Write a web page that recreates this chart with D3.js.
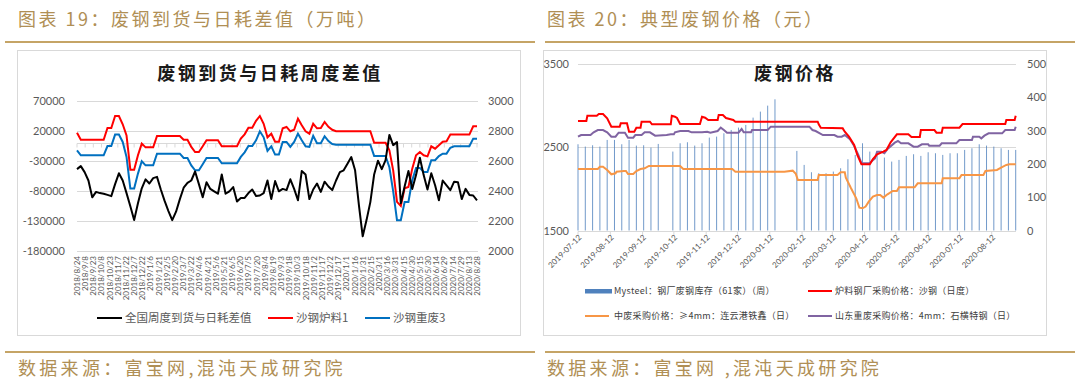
<!DOCTYPE html>
<html><head><meta charset="utf-8">
<script src="https://cdn.jsdelivr.net/npm/d3@7"></script>
<style>
body{margin:0;background:#fff;}
svg{display:block;}
text{font-family:"Noto Sans CJK SC","Noto Sans",sans-serif;}
.num{font-family:Lato,"Liberation Sans",sans-serif;}
</style></head><body>
<svg id="c" width="1080" height="382"></svg>
<script>
// ---------------- LEFT CHART DATA (weekly from 2018-08-24) ----------------
const leftStart = "2018-08-24";
const leftEnd = "2020-08-28";
const arrivalGap = [-43000,-38000,-48000,-62000,-90000,-81000,-83000,-84000,-86000,-88000,
 -68000,-50000,-62000,-83000,-105000,-128000,-100000,-75000,-60000,-67000,
 -58000,-56000,-77000,-96000,-113000,-128000,-114000,-93000,-74000,-66000,
 -62000,-47000,-68000,-90000,-65000,-76000,-80000,-84000,-52000,-84000,
 -80000,-73000,-97000,-91000,-91000,-83000,-77000,-88000,-87000,-83000,
 -62000,-93000,-63000,-80000,-76000,-78000,-60000,-76000,-95000,-46000,
 -52000,-93000,-77000,-67000,-81000,-64000,-72000,-78000,-62000,-48000,
 -45000,-34000,-23000,-45000,-103000,-155000,-128000,-98000,-52000,-29000,
 -43000,-28000,14000,-3000,2000,-100000,-72000,-46000,-76000,-53000,
 -24000,-53000,-77000,-50000,-70000,-95000,-62000,-70000,-78000,-64000,
 -65000,-93000,-76000,-86000,-87000,-95000];
const furnace1 = [2791,2744,2744,2744,2744,2744,2744,2744,2822,2822,
 2902,2902,2847,2773,2544,2544,2640,2718,2693,2693,
 2693,2769,2769,2769,2769,2769,2769,2769,2744,2744,
 2696,2662,2662,2700,2740,2740,2740,2740,2700,2700,
 2700,2700,2700,2751,2780,2824,2824,2870,2902,2850,
 2760,2784,2730,2730,2820,2829,2800,2810,2884,2840,
 2800,2784,2850,2820,2822,2862,2830,2810,2800,2800,
 2800,2800,2800,2800,2800,2800,2800,2800,2724,2724,
 2724,2724,2673,2540,2330,2302,2420,2429,2551,2640,
 2662,2640,2633,2700,2684,2707,2730,2733,2778,2778,
 2778,2778,2778,2778,2833,2833];
const heavy3 = [2673,2640,2640,2640,2640,2640,2640,2640,2702,2702,
 2778,2778,2729,2629,2418,2418,2518,2600,2573,2573,
 2573,2651,2651,2651,2651,2651,2651,2651,2622,2622,
 2573,2540,2540,2580,2622,2622,2622,2622,2587,2587,
 2587,2587,2587,2629,2660,2702,2702,2740,2800,2760,
 2670,2700,2645,2645,2729,2729,2696,2729,2784,2740,
 2700,2696,2770,2720,2720,2767,2735,2715,2711,2711,
 2711,2711,2711,2711,2711,2711,2711,2711,2636,2636,
 2636,2636,2560,2400,2207,2207,2329,2329,2473,2556,
 2556,2529,2529,2607,2607,2635,2651,2651,2690,2700,
 2700,2700,2700,2700,2751,2751];
const leftTickLabels = ["2018/8/24","2018/9/8","2018/9/23","2018/10/8","2018/10/23","2018/11/7","2018/11/22","2018/12/7","2018/12/22","2019/1/6",
 "2019/1/21","2019/2/5","2019/2/20","2019/3/7","2019/3/22","2019/4/6","2019/4/21","2019/5/6","2019/5/21","2019/6/5",
 "2019/6/20","2019/7/5","2019/7/20","2019/8/4","2019/8/19","2019/9/3","2019/9/18","2019/10/3","2019/10/18","2019/11/2",
 "2019/11/17","2019/12/2","2019/12/17","2020/1/1","2020/1/16","2020/1/31","2020/2/15","2020/3/1","2020/3/16","2020/3/31",
 "2020/4/15","2020/4/30","2020/5/15","2020/5/30","2020/6/14","2020/6/29","2020/7/14","2020/7/29","2020/8/13","2020/8/28"];
const leftYTicks = [70000,20000,-30000,-80000,-130000,-180000];
const rightYTicks = [3000,2800,2600,2400,2200,2000];
const leftLegend = ["全国周度到货与日耗差值","沙钢炉料1","沙钢重废3"];

// ---------------- RIGHT CHART DATA ----------------
const barStart = "2019-07-12"; // weekly
const inventory = [259,252,256,252,272,272,259,272,255,256,249,260,null,237,262,265,255,262,279,282,
 292,302,309,317,339,357,375,394,null,null,239,197,175,172,172,177,187,214,227,262,
 237,232,219,207,212,224,229,224,235,232,227,232,232,242,247,259,255,252,247,242,242];
const shaDates = ["2019-07-12","2019-07-20","2019-07-21","2019-07-30","2019-08-01","2019-08-05","2019-08-09","2019-08-13","2019-08-21","2019-08-22",
 "2019-08-28","2019-08-30","2019-09-04","2019-09-06","2019-09-10","2019-09-11","2019-09-19","2019-09-21","2019-10-09","2019-10-10",
 "2019-10-13","2019-10-15","2019-10-18","2019-11-06","2019-11-08","2019-11-11","2019-11-14","2019-11-23","2019-11-24","2019-11-28",
 "2019-12-01","2019-12-08","2019-12-10","2020-02-27","2020-02-28","2020-03-01","2020-03-22","2020-03-24","2020-03-28","2020-04-02",
 "2020-04-05","2020-04-09","2020-04-17","2020-04-20","2020-04-24","2020-04-30","2020-05-03","2020-05-07","2020-05-13","2020-05-24",
 "2020-05-27","2020-06-04","2020-06-05","2020-06-18","2020-06-20","2020-06-25","2020-06-26","2020-07-12","2020-07-15","2020-08-25",
 "2020-08-26","2020-09-03","2020-09-04"];
const shaPrice = [2815,2815,2879,2879,2899,2899,2847,2747,2747,2787,
 2787,2687,2687,2735,2735,2807,2807,2775,2775,2879,
 2867,2851,2779,2779,2867,2855,2827,2827,2887,2887,
 2851,2827,2807,2807,2775,2735,2727,2687,2627,2527,
 2407,2295,2295,2359,2415,2447,2467,2559,2655,2655,
 2623,2623,2707,2707,2675,2675,2735,2735,2779,2779,
 2827,2827,2879];
const lygDates = ["2019-07-12","2019-07-31","2019-08-02","2019-08-05","2019-08-09","2019-08-13","2019-08-17","2019-08-18","2019-08-25","2019-08-27",
 "2019-08-29","2019-09-03","2019-09-06","2019-09-10","2019-09-14","2019-09-18","2019-10-18","2019-10-21","2019-12-07","2019-12-10",
 "2020-01-26","2020-02-03","2020-02-06","2020-02-08","2020-02-27","2020-02-28","2020-03-17","2020-03-20","2020-03-24","2020-03-25",
 "2020-03-30","2020-04-04","2020-04-07","2020-04-10","2020-04-13","2020-04-16","2020-04-20","2020-04-24","2020-04-27","2020-04-30",
 "2020-05-04","2020-05-09","2020-05-13","2020-05-15","2020-05-30","2020-06-02","2020-06-25","2020-06-26","2020-07-12","2020-07-14",
 "2020-08-04","2020-08-06","2020-08-17","2020-08-21","2020-08-26","2020-08-29","2020-09-04"];
const lygPrice = [2239,2239,2267,2267,2227,2175,2187,2207,2215,2215,
 2179,2179,2215,2239,2247,2275,2275,2239,2239,2207,
 2207,2219,2180,2107,2107,2167,2167,2199,2199,2135,
 2007,1887,1775,1767,1787,1847,1907,1927,1927,1895,
 1935,1975,1975,2019,2019,2067,2067,2127,2127,2167,
 2167,2215,2227,2255,2287,2295,2295];
const shiDates = ["2019-07-12","2019-07-15","2019-07-24","2019-07-27","2019-07-31","2019-08-05","2019-08-09","2019-08-13","2019-08-17","2019-08-20",
 "2019-08-26","2019-08-29","2019-09-03","2019-09-05","2019-09-11","2019-09-14","2019-09-19","2019-09-24","2019-10-05","2019-10-09",
 "2019-10-12","2019-10-13","2019-10-18","2019-10-26","2019-10-29","2019-11-08","2019-11-13","2019-11-16","2019-11-23","2019-11-26",
 "2019-11-29","2019-12-02","2019-12-13","2019-12-16","2019-12-18","2019-12-25","2019-12-26","2020-01-10","2020-01-13","2020-02-19",
 "2020-02-22","2020-02-25","2020-03-03","2020-03-14","2020-03-17","2020-03-21","2020-03-24","2020-03-26","2020-03-29","2020-04-02",
 "2020-04-06","2020-04-09","2020-04-17","2020-04-19","2020-04-22","2020-04-24","2020-04-28","2020-05-01","2020-05-04","2020-05-11",
 "2020-05-14","2020-05-17","2020-05-24","2020-05-29","2020-06-02","2020-06-06","2020-06-12","2020-06-13","2020-06-23","2020-06-25",
 "2020-07-09","2020-07-12","2020-07-24","2020-07-25","2020-07-31","2020-08-02","2020-08-05","2020-08-09","2020-08-22","2020-08-25",
 "2020-09-03","2020-09-04"];
const shiPrice = [2627,2647,2647,2679,2707,2707,2679,2627,2627,2675,
 2675,2615,2615,2647,2647,2679,2679,2639,2647,2655,
 2655,2679,2695,2695,2679,2679,2687,2675,2695,2735,
 2707,2675,2675,2719,2679,2679,2707,2707,2747,2747,
 2707,2695,2647,2647,2627,2627,2647,2627,2595,2515,
 2407,2307,2307,2335,2367,2447,2447,2427,2479,2555,
 2575,2547,2547,2507,2507,2535,2535,2519,2519,2547,
 2547,2587,2587,2627,2627,2607,2639,2667,2667,2707,
 2707,2747];
const rightXTickLabels = ["2019-07-12","2019-08-12","2019-09-12","2019-10-12","2019-11-12","2019-12-12","2020-01-12",
 "2020-02-12","2020-03-12","2020-04-12","2020-05-12","2020-06-12","2020-07-12","2020-08-12"];
const priceTicks = [3500,2500,1500];
const invTicks = [500,400,300,200,100,0];
const rightLegend = ["Mysteel：钢厂废钢库存（61家）（周）","炉料钢厂采购价格：沙钢（日度）","中废采购价格：≥4mm：连云港铁鑫（日）","山东重废采购价格：4mm：石横特钢（日）"];

// ---------------- DRAW ----------------
const P = d3.timeParse("%Y-%m-%d");
const PL = d3.timeParse("%Y/%m/%d");
const svg = d3.select("#c");
const gold = "#b08f55", goldLine = "#c5a466";
const axisCol = "#595959", gridCol = "#d9d9d9";

// headers
[[18,"图表 19：废钢到货与日耗差值（万吨）",5,535],[547,"图表 20：典型废钢价格（元）",545,1075]].forEach(([x,t,a,b])=>{
  svg.append("text").attr("x",x).attr("y",26).attr("font-size",18).attr("letter-spacing",2.5).attr("fill",gold).text(t);
  svg.append("line").attr("x1",a).attr("x2",b).attr("y1",42).attr("y2",42).attr("stroke",goldLine).attr("stroke-width",2);
  svg.append("line").attr("x1",a).attr("x2",b).attr("y1",352).attr("y2",352).attr("stroke",goldLine).attr("stroke-width",2);
});
svg.append("text").attr("x",18).attr("y",375).attr("font-size",18).attr("letter-spacing",3.3).attr("fill",gold).text("数据来源：富宝网,混沌天成研究院");
svg.append("text").attr("x",547).attr("y",375).attr("font-size",18).attr("letter-spacing",3.3).attr("fill",gold).text("数据来源：富宝网 ,混沌天成研究院");

// frames
svg.append("rect").attr("x",17.5).attr("y",50.5).attr("width",503).attr("height",285).attr("fill","none").attr("stroke",gridCol);
svg.append("rect").attr("x",543.5).attr("y",50.5).attr("width",503).attr("height",285).attr("fill","none").attr("stroke",gridCol);

// ===== left chart =====
const dStart = P(leftStart);
const weeks = arrivalGap.map((_,i)=>d3.timeDay.offset(dStart,7*i));
const xL = d3.scaleTime().domain([dStart,P(leftEnd)]).range([77,477]);
const yL = d3.scaleLinear().domain([-180000,70000]).range([251.3,101.3]);
const yL2 = d3.scaleLinear().domain([2000,3000]).range([251.3,101.3]);
const gL = svg.append("g");
gL.append("text").attr("x",270).attr("y",80).attr("text-anchor","middle").attr("font-size",18).attr("font-weight",700)
  .attr("letter-spacing",2.5).attr("fill","#1a1a1a").text("废钢到货与日耗周度差值");
// grid
gL.selectAll(".g").data(leftYTicks).join("line").attr("x1",77).attr("x2",478)
  .attr("y1",d=>Math.round(yL(d))+0.5).attr("y2",d=>Math.round(yL(d))+0.5).attr("stroke",gridCol);
gL.selectAll(".yl").data(leftYTicks).join("text").attr("class","num").attr("x",65).attr("y",d=>yL(d)+4)
  .attr("text-anchor","end").attr("font-size",11).attr("fill",axisCol).text(d=>d);
gL.selectAll(".yr").data(rightYTicks).join("text").attr("class","num").attr("x",488).attr("y",d=>yL2(d)+4)
  .attr("font-size",11).attr("fill",axisCol).text(d=>d);
// category axis at 0
const y0 = Math.round(yL(0))+0.5;
gL.append("line").attr("x1",77).attr("x2",478).attr("y1",y0).attr("y2",y0).attr("stroke",gridCol);
gL.selectAll(".tk").data(leftTickLabels).join("line").attr("x1",d=>xL(PL(d))).attr("x2",d=>xL(PL(d)))
  .attr("y1",y0).attr("y2",y0+4).attr("stroke",gridCol);
gL.selectAll(".xl").data(leftTickLabels).join("text").attr("class","num")
  .attr("transform",d=>`translate(${xL(PL(d))+3},256) rotate(-90)`).attr("text-anchor","end")
  .attr("font-size",8).attr("fill",axisCol).text(d=>d);
// lines
const lineL = (ys,vals)=>d3.line().x((d,i)=>xL(weeks[i])).y(d=>ys(d))(vals);
gL.append("path").attr("d",lineL(yL2,heavy3)).attr("fill","none").attr("stroke","#0070c0").attr("stroke-width",2);
gL.append("path").attr("d",lineL(yL2,furnace1)).attr("fill","none").attr("stroke","#ff0000").attr("stroke-width",2);
gL.append("path").attr("d",lineL(yL,arrivalGap)).attr("fill","none").attr("stroke","#000").attr("stroke-width",2).attr("stroke-linejoin","round");
// legend
[[97,"#000",leftLegend[0]],[268,"#ff0000",leftLegend[1]],[365,"#0070c0",leftLegend[2]]].forEach(([x,c,t])=>{
  gL.append("line").attr("x1",x).attr("x2",x+25).attr("y1",318).attr("y2",318).attr("stroke",c).attr("stroke-width",2);
  gL.append("text").attr("x",x+28).attr("y",322).attr("font-size",11.5).attr("fill",axisCol).text(t);
});

// ===== right chart =====
const bStart = P(barStart);
const barDates = inventory.map((_,i)=>d3.timeDay.offset(bStart,7*i));
const xR = d3.scaleTime().domain([bStart,P("2020-09-04")]).range([578,1015.7]);
const yP = d3.scaleLinear().domain([1500,3500]).range([230.5,64]);
const yI = d3.scaleLinear().domain([0,500]).range([230.5,64]);
const gR = svg.append("g");
gR.selectAll(".g").data(priceTicks).join("line").attr("x1",578).attr("x2",1016)
  .attr("y1",d=>Math.round(yP(d))+0.5).attr("y2",d=>Math.round(yP(d))+0.5).attr("stroke",gridCol);
gR.selectAll(".yl").data(priceTicks).join("text").attr("class","num").attr("x",569).attr("y",d=>yP(d)+4)
  .attr("text-anchor","end").attr("font-size",11).attr("fill",axisCol).text(d=>d);
gR.selectAll(".yr").data(invTicks).join("text").attr("class","num").attr("x",1027).attr("y",d=>yI(d)+4)
  .attr("font-size",11).attr("fill",axisCol).text(d=>d);
// bars
gR.selectAll(".b").data(inventory.map((v,i)=>({v,d:barDates[i]})).filter(o=>o.v!=null)).join("rect")
  .attr("x",o=>xR(o.d)-0.5).attr("width",1).attr("y",o=>yI(o.v)).attr("height",o=>yI(0)-yI(o.v))
  .attr("fill","#4f81bd").attr("fill-opacity",0.8);
gR.append("text").attr("x",795).attr("y",80).attr("text-anchor","middle").attr("font-size",18).attr("font-weight",700)
  .attr("letter-spacing",2.5).attr("fill","#1a1a1a").text("废钢价格");
// x axis
const yb = Math.round(yP(1500))+0.5;
gR.append("line").attr("x1",578).attr("x2",1016).attr("y1",yb).attr("y2",yb).attr("stroke",gridCol);
gR.selectAll(".tk").data(rightXTickLabels).join("line").attr("x1",d=>xR(P(d))).attr("x2",d=>xR(P(d)))
  .attr("y1",yb).attr("y2",yb+4).attr("stroke",gridCol);
gR.selectAll(".xl").data(rightXTickLabels).join("text").attr("class","num")
  .attr("transform",d=>`translate(${xR(P(d))+4},238) rotate(-45)`).attr("text-anchor","end")
  .attr("font-size",8).attr("fill",axisCol).text(d=>d);
// lines
const lineR = (dates,vals)=>d3.line().x((d,i)=>xR(P(dates[i]))).y(d=>yP(d))(vals);
gR.append("path").attr("d",lineR(lygDates,lygPrice)).attr("fill","none").attr("stroke","#f79646").attr("stroke-width",2);
gR.append("path").attr("d",lineR(shiDates,shiPrice)).attr("fill","none").attr("stroke","#8064a2").attr("stroke-width",2);
gR.append("path").attr("d",lineR(shaDates,shaPrice)).attr("fill","none").attr("stroke","#ff0000").attr("stroke-width",2);
// legend
gR.append("rect").attr("x",585).attr("y",289).attr("width",27).attr("height",4.5).attr("fill","#4f81bd");
[[808,291,"#ff0000",1],[585,316,"#f79646",2],[808,316,"#8064a2",3]].forEach(([x,y,c,k])=>{
  gR.append("line").attr("x1",x).attr("x2",x+24).attr("y1",y).attr("y2",y).attr("stroke",c).attr("stroke-width",2);
});
[[614,294,0],[835,294,1],[614,319,2],[835,319,3]].forEach(([x,y,k])=>{
  gR.append("text").attr("x",x).attr("y",y).attr("font-size",9).attr("letter-spacing",0.3).attr("fill","#404040").text(rightLegend[k]);
});
</script></body></html>
